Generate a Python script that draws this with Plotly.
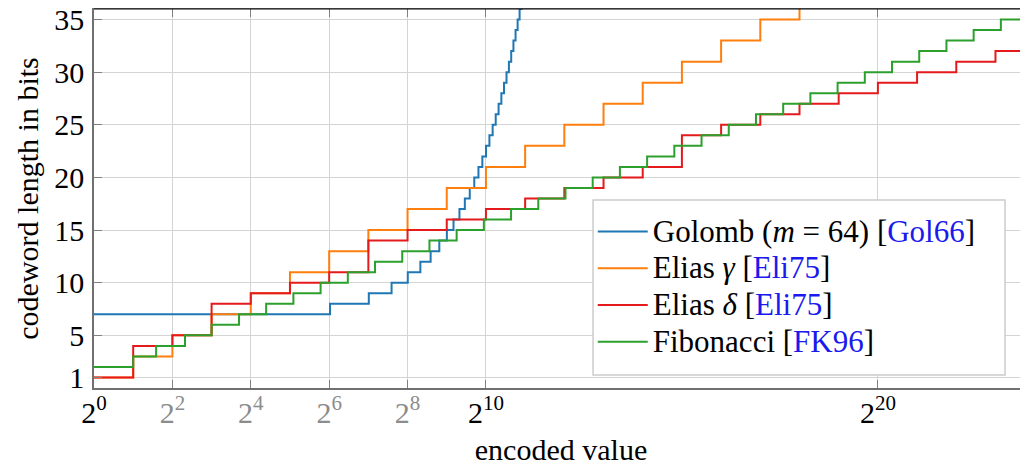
import math
import plotly.graph_objects as go

# ---------------- data ----------------
golomb_x = [1, 65, 129, 193, 257, 321, 385, 449, 513, 577, 641, 705, 769, 833, 897,
            961, 1025, 1089, 1153, 1217, 1281, 1345, 1409, 1473, 1537, 1601, 1665,
            1729, 1793, 1857, 1921]
golomb_y = [7, 8, 9, 10, 11, 12, 13, 14, 15, 16, 17, 18, 19, 20, 21,
            22, 23, 24, 25, 26, 27, 28, 29, 30, 31, 32, 33,
            34, 35, 36, 37]

gamma_x = [1, 2, 4, 8, 16, 32, 64, 128, 256, 512, 1024, 2048, 4096, 8192,
           16384, 32768, 65536, 131072, 262144]
gamma_y = [1, 3, 5, 7, 9, 11, 13, 15, 17, 19, 21, 23, 25, 27,
           29, 31, 33, 35, 37]

delta_x = [1, 2, 4, 8, 16, 32, 64, 128, 256, 512, 1024, 2048, 4096, 8192,
           16384, 32768, 65536, 131072, 262144, 524288, 1048576, 2097152,
           4194304, 8388608, 16777216]
delta_y = [1, 4, 5, 8, 9, 10, 11, 14, 15, 16, 17, 18, 19, 20,
           21, 24, 25, 26, 27, 28, 29, 30,
           31, 32, 32]

fib_x = [1, 2, 3, 5, 8, 13, 21, 34, 55, 89, 144, 233, 377, 610, 987, 1597, 2584,
         4181, 6765, 10946, 17711, 28657, 46368, 75025, 121393, 196418, 317811,
         514229, 832040, 1346269, 2178309, 3524578, 5702887, 9227465, 14930352]
fib_y = [2, 3, 4, 5, 6, 7, 8, 9, 10, 11, 12, 13, 14, 15, 16, 17, 18,
         19, 20, 21, 22, 23, 24, 25, 26, 27, 28,
         29, 30, 31, 32, 33, 34, 35, 36]

CITE = "#1a1aee"
series_names = [
    f"Golomb (<i>m</i> = 64) [<span style='color:{CITE}'>Gol66</span>]",
    f"Elias <i>γ</i> [<span style='color:{CITE}'>Eli75</span>]",
    f"Elias <i>δ</i> [<span style='color:{CITE}'>Eli75</span>]",
    f"Fibonacci [<span style='color:{CITE}'>FK96</span>]",
]
series_colors = ["#1f77b4", "#ff7f0e", "#e41a1c", "#2ca02c"]

x_tick_exps = [0, 2, 4, 6, 8, 10, 20]
x_tick_gray = [False, True, True, True, True, False, False]
y_ticks = [1, 5, 10, 15, 20, 25, 30, 35]

# ---------------- figure ----------------
FONT = "Liberation Serif"
fig = go.Figure()
for xs, ys, name, col in zip([golomb_x, gamma_x, delta_x, fib_x],
                             [golomb_y, gamma_y, delta_y, fib_y],
                             series_names, series_colors):
    label = f"<span style='font-size:31px'>{name}</span>"
    fig.add_trace(go.Scatter(x=xs, y=ys, mode="lines", line_shape="hv",
                             name=label, line=dict(color=col, width=2)))

tickvals = [2 ** e for e in x_tick_exps]
ticktext = []
for e, g in zip(x_tick_exps, x_tick_gray):
    t = f"2<sup>{e}</sup>"
    if g:
        t = f"<span style='color:#8c8c8c'>{t}</span>"
    ticktext.append(t)

XMAX_LOG2 = 23.83
fig.update_xaxes(
    type="log", range=[0, XMAX_LOG2 * math.log10(2)],
    tickvals=tickvals, ticktext=ticktext,
    showgrid=True, gridcolor="#d4d4d4", gridwidth=1,
    showline=True, linecolor="#707070", linewidth=1.5, mirror="ticks",
    ticks="inside", ticklen=8, tickcolor="#808080",
    tickfont=dict(family=FONT, size=30, color="black"),
    ticklabelstandoff=-3,
    title=dict(text="encoded value", font=dict(family=FONT, size=30, color="black"), standoff=16),
    zeroline=False,
)
fig.update_yaxes(
    range=[0, 36], tickvals=y_ticks,
    showgrid=True, gridcolor="#d4d4d4", gridwidth=1,
    showline=True, linecolor="#707070", linewidth=1.5,
    ticks="inside", ticklen=8, tickcolor="#808080",
    tickfont=dict(family=FONT, size=30, color="black"),
    ticklabelstandoff=2, ticklabeloverflow="allow",
    title=dict(text="codeword length in bits", font=dict(family=FONT, size=30, color="black"), standoff=7),
    zeroline=False,
)
# top frame line
fig.add_shape(type="line", xref="paper", yref="paper", x0=0, x1=1, y0=1, y1=1,
              line=dict(color="black", width=1))
# legend frame (white box drawn over the curves, legend entries sit on it)
fig.add_shape(type="rect", xref="paper", yref="paper", layer="above",
              x0=0.5343, x1=0.9754, y0=0.0343, y1=0.4960,
              fillcolor="white", line=dict(color="#cccccc", width=1.5))

# page body has an 8px margin: the figure is offset by 8px right and down
fig.update_layout(
    template="none",
    width=1020, height=458,
    margin=dict(l=86, r=0, t=1, b=78),
    plot_bgcolor="white", paper_bgcolor="white",
    font=dict(family=FONT, size=30, color="black"),
    showlegend=True,
    legend=dict(
        x=0.534, y=0.475, xanchor="left", yanchor="top",
        bgcolor="rgba(0,0,0,0)", borderwidth=0,
        font=dict(family=FONT, size=26, color="black"),
        itemwidth=50, tracegroupgap=0,
    ),
)

fig.write_html("out.html")
